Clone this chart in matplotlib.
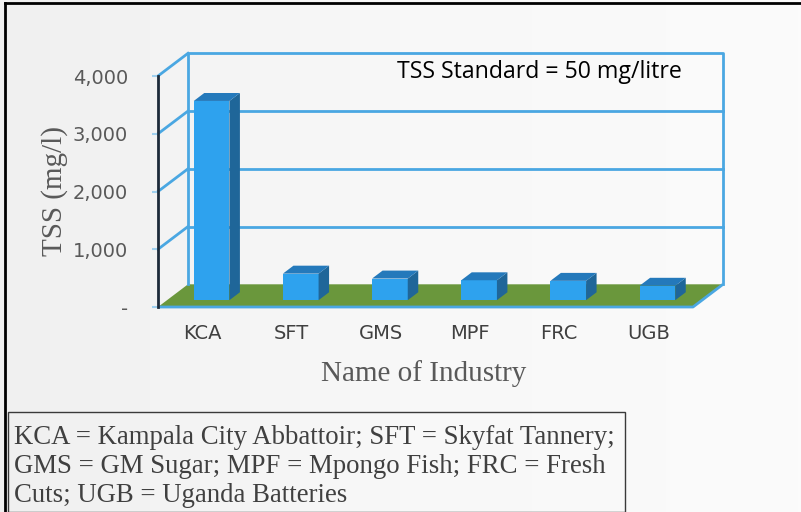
import matplotlib
matplotlib.use("Agg")
import matplotlib.pyplot as plt
import numpy as np
from matplotlib.patches import Polygon, Rectangle
from matplotlib.lines import Line2D

# ---- data ----
categories = ["KCA", "SFT", "GMS", "MPF", "FRC", "UGB"]
tss_values = [3450, 460, 375, 345, 335, 250]
y_ticks = [0, 1000, 2000, 3000, 4000]
y_tick_labels = ["-", "1,000", "2,000", "3,000", "4,000"]
y_label = "TSS (mg/l)"
x_label = "Name of Industry"
annotation = "TSS Standard = 50 mg/litre"
legend_lines = [
    "KCA = Kampala City Abbattoir; SFT = Skyfat Tannery;",
    "GMS = GM Sugar; MPF = Mpongo Fish; FRC = Fresh",
    "Cuts; UGB = Uganda Batteries",
]

# ---- style ----
W, H = 801, 512
BLUE_LINE = "#4aa7e2"
GREEN = "#6a973c"
FRONT = "#2ea2ee"
SIDE = "#1f6699"
TOP = "#2479bb"
GRAY_TXT = "#595959"

fig = plt.figure(figsize=(W / 100, H / 100), dpi=100)

# background gradient
bg = fig.add_axes([0, 0, 1, 1], zorder=-10)
grad = np.linspace(0, 1, 256)[None, :]
bg.imshow(grad, aspect="auto", cmap=matplotlib.colors.LinearSegmentedColormap.from_list(
    "g", ["#f0f0f0", "#f8f8f8", "#fbfbfb"]), extent=[0, 1, 0, 1])
bg.set_axis_off()

# main axes = front plane
left_px, right_px, bot_px, top_px = 158, 693, 307, 76
ax = fig.add_axes([left_px / W, 1 - bot_px / H, (right_px - left_px) / W, (bot_px - top_px) / H])
ax.set_facecolor("none")
n = len(categories)
ax.set_xlim(-0.5, n - 0.5)
ax.set_ylim(0, 4000)
for s in ax.spines.values():
    s.set_visible(False)

px_per_cat = (right_px - left_px) / n
px_per_val = (bot_px - top_px) / 4000
dxd = 30 / px_per_cat          # depth offset in category units
dyd = 22.7 / px_per_val        # depth offset in value units
ymax = 4000
x0, x1 = -0.5, n - 0.5

# floor
floor = Polygon([(x0, 0), (x1, 0), (x1 + dxd, dyd), (x0 + dxd, dyd)], closed=True,
                facecolor=GREEN, edgecolor="none", clip_on=False, zorder=1)
ax.add_patch(floor)
ax.plot([x0, x1, x1 + dxd], [0, 0, dyd], color=BLUE_LINE, lw=2.0, clip_on=False, zorder=2,
        solid_capstyle="butt")

# back wall and grid
ax.plot([x0 + dxd, x0 + dxd, x1 + dxd, x1 + dxd], [dyd, ymax + dyd, ymax + dyd, dyd],
        color=BLUE_LINE, lw=2.0, clip_on=False, zorder=1)
for v in y_ticks[1:-1]:
    ax.plot([x0 + dxd, x1 + dxd], [v + dyd, v + dyd], color=BLUE_LINE, lw=2.0,
            clip_on=False, zorder=1)
for v in y_ticks[1:]:
    ax.plot([x0, x0 + dxd], [v, v + dyd], color=BLUE_LINE, lw=2.0, clip_on=False, zorder=1)

# front axis line
ax.plot([x0, x0], [0, ymax], color="#1d2b3a", lw=2.0, clip_on=False, zorder=3)

# bars
f0, t, bw = 0.3, 0.35, 0.4
for i, v in enumerate(tss_values):
    bx = i - bw / 2 + f0 * dxd
    by = f0 * dyd
    ddx, ddy = t * dxd, t * dyd
    ax.add_patch(Rectangle((bx, by), bw, v, facecolor=FRONT, edgecolor="none",
                           clip_on=False, zorder=5))
    ax.add_patch(Polygon([(bx + bw, by), (bx + bw + ddx, by + ddy), (bx + bw + ddx, by + v + ddy),
                          (bx + bw, by + v)], closed=True, facecolor=SIDE, edgecolor="none",
                         clip_on=False, zorder=5))
    ax.add_patch(Polygon([(bx, by + v), (bx + bw, by + v), (bx + bw + ddx, by + v + ddy),
                          (bx + ddx, by + v + ddy)], closed=True, facecolor=TOP, edgecolor="none",
                         clip_on=False, zorder=5))

# ticks
ax.set_yticks(y_ticks)
ax.set_yticklabels(y_tick_labels)
ax.tick_params(axis="y", length=4.5, width=1.5, color="#9fd0ef", pad=17,
               labelsize=14, labelcolor=GRAY_TXT)
for lab in ax.get_yticklabels():
    lab.set_family("DejaVu Sans")
ax.set_xticks(range(n))
ax.set_xticklabels(categories)
ax.tick_params(axis="x", length=0, pad=12, labelsize=14, labelcolor="#404040")

# axis titles
fig.text(55 / W, 1 - 191 / H, y_label, rotation=90, ha="center", va="center",
         fontsize=21, family="Liberation Serif", color=GRAY_TXT)
fig.text(424 / W, 1 - 374 / H, x_label, ha="center", va="center",
         fontsize=21, family="Liberation Serif", color=GRAY_TXT)

# annotation
fig.text(397 / W, 1 - 72 / H, annotation, ha="left", va="center",
         fontsize=16.7, family="Open Sans", color="black")

# legend box
fig.add_artist(Rectangle((8 / W, 0), (625 - 8) / W, (512 - 412) / H, transform=fig.transFigure,
                         facecolor="none", edgecolor="#3a3a3a", lw=1.0))
for k, line in enumerate(legend_lines):
    fig.text(14 / W, 1 - (437 + 29.5 * k) / H, line, ha="left", va="center",
             fontsize=19.3, family="Liberation Serif", color="#404040")

# outer border (top and left)
fig.add_artist(Line2D([4.5 / W, 4.5 / W], [0, 1 - 3 / H], transform=fig.transFigure,
                      color="black", lw=2))
fig.add_artist(Line2D([4.5 / W, 1], [1 - 3 / H, 1 - 3 / H], transform=fig.transFigure,
                      color="black", lw=2))

fig.savefig("out.png", dpi=100)
